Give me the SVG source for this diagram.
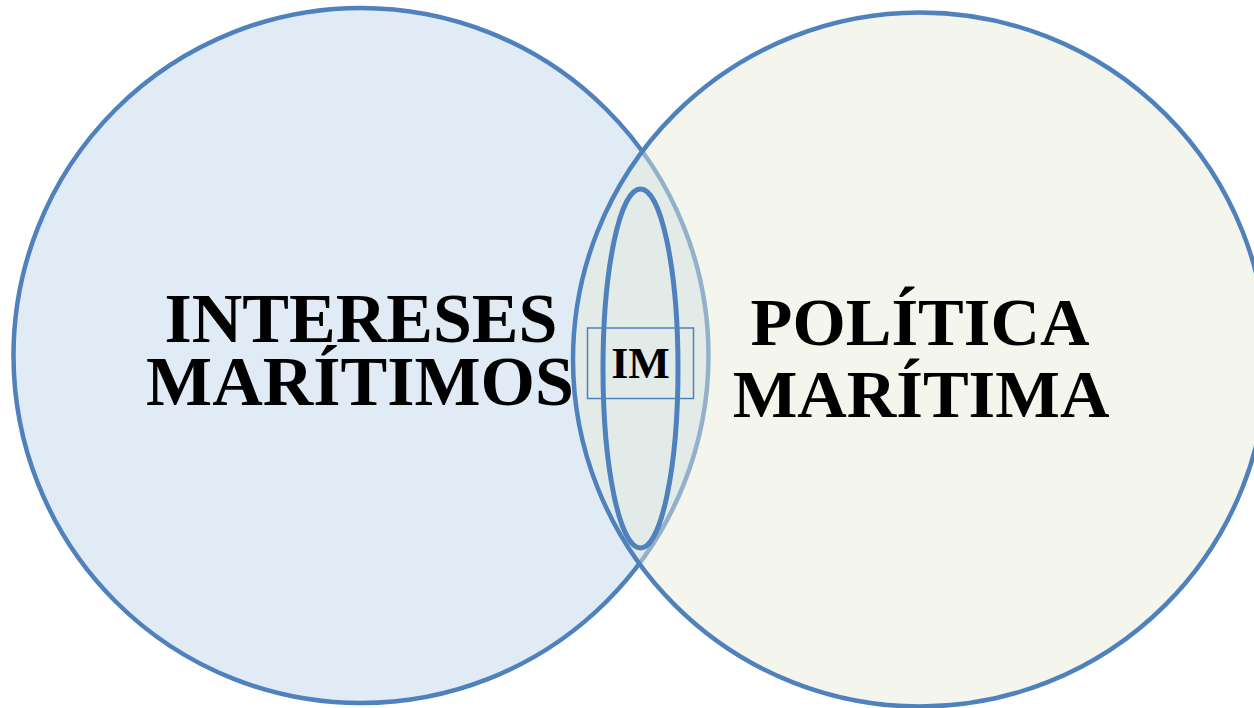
<svg xmlns="http://www.w3.org/2000/svg" width="1254" height="708" viewBox="0 0 1254 708">
<style>
.ring{stroke:#4F81BD;stroke-width:4.5}
.lbl{font-family:"Liberation Serif","Times New Roman",serif;font-weight:bold;fill:#000;text-anchor:middle}
</style>
<rect width="1254" height="708" fill="#FFFFFF"/>
<g id="intereses">
<circle class="ring" cx="361" cy="355.5" r="347.5" fill="#E0EBF6"/>
<text class="lbl" font-size="70"><tspan x="361" y="342">INTERESES</tspan><tspan x="360" y="405">MARÍTIMOS</tspan></text>
</g>
<g id="politica">
<circle cx="920" cy="359.5" r="347" fill="#E7EBD9" fill-opacity="0.45"/>
<circle class="ring" cx="920" cy="359.5" r="347" fill="none"/>
<text class="lbl" font-size="68.5"><tspan x="920" y="345">POLÍTICA</tspan><tspan x="921" y="417">MARÍTIMA</tspan></text>
</g>
<g id="im">
<ellipse cx="640.5" cy="368.5" rx="37.5" ry="179.5" fill="none" stroke="#4F81BD" stroke-width="5"/>
<rect x="587.5" y="328" width="106" height="70.5" fill="none" stroke="#4F81BD" stroke-width="1.5"/>
<text class="lbl" font-size="44" x="640.5" y="378">IM</text>
</g>
</svg>
